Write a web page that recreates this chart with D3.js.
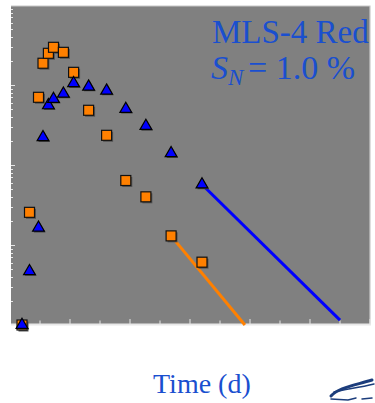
<!DOCTYPE html>
<html><head><meta charset="utf-8">
<script src="https://cdn.jsdelivr.net/npm/d3@7"></script>
<style>html,body{margin:0;padding:0;background:#fff;}svg{display:block;}</style>
</head><body>
<svg id="c" width="375" height="403"></svg>
<script>
// Data (time in days, counts on log scale)
const times = [0.4, 0.65, 0.95, 1.1, 1.28, 1.45, 1.78, 2.12, 2.62, 3.22, 3.86, 4.53, 5.37, 6.4];
const orangeValues = [1, 25.6, 702, 1870, 2490, 2960, 2560, 1440, 483, 235, 64, 40, 13, 6.1];
const blueValues = [1, 4.7, 16.4, 222, 557, 668, 778, 1050, 952, 849, 501, 307, 140, 57];
const orangeLineT = [5.37, 7.83];
const orangeLineV = [13, 1];
const blueLineT = [6.4, 11.0];
const blueLineV = [57, 1.15];
const xMajorTicks = [2, 4, 6, 8, 10, 12];
const xMinorTicks = [1, 3, 5, 7, 9, 11];
const titleLine1 = "MLS-4 Red";
const xLabel = "Time (d)";

const svg = d3.select("#c");
const L = 11, R = 370, T = 6, B = 324;
const x = d3.scaleLinear().domain([0, 12]).range([10, 370]);
const y = d3.scaleLog().domain([1, 10000]).range([325, 5]);

svg.append("rect").attr("x", L).attr("y", T).attr("width", R - L).attr("height", B - T).attr("fill", "#808080");
// top/right frame
svg.append("path").attr("d", `M${L},${T}H${R}V${B}`).attr("fill", "none").attr("stroke", "#c8c8c8").attr("stroke-width", 1.2);

// y ticks (log, inward)
const yTicks = [];
for (let d = 0; d < 4; d++) for (let m = 1; m <= 9; m++) yTicks.push(m * Math.pow(10, d));
yTicks.push(10000);
svg.append("g").selectAll("line").data(yTicks.filter(v => y(v) >= T && y(v) <= B))
  .join("line")
  .attr("x1", L).attr("x2", v => L + (Math.abs(Math.log10(v) % 1) < 1e-9 ? 4 : 2))
  .attr("y1", v => Math.round(y(v)) + 0.5).attr("y2", v => Math.round(y(v)) + 0.5)
  .attr("stroke", "#e6e6e6").attr("stroke-width", 1);

// x axis
const xg = svg.append("g").attr("transform", `translate(0,${B})`);
xg.append("line").attr("x1", L).attr("x2", R + 1).attr("y1", 0.5).attr("y2", 0.5).attr("stroke", "#e8e8e8").attr("stroke-width", 2);
xg.selectAll("line.maj").data(xMajorTicks).join("line").attr("class", "maj")
  .attr("x1", d => x(d)).attr("x2", d => x(d)).attr("y1", 0).attr("y2", -5)
  .attr("stroke", "#e6e6e6").attr("stroke-width", 1);
xg.selectAll("line.min").data(xMinorTicks).join("line").attr("class", "min")
  .attr("x1", d => x(d)).attr("x2", d => x(d)).attr("y1", 0).attr("y2", -3.5)
  .attr("stroke", "#e6e6e6").attr("stroke-width", 1);

// fit lines
const line = d3.line().x(d => x(d[0])).y(d => y(d[1]));
svg.append("path").datum(orangeLineT.map((t, i) => [t, orangeLineV[i]]))
  .attr("d", line).attr("stroke", "#ff8000").attr("stroke-width", 3).attr("fill", "none");
svg.append("path").datum(blueLineT.map((t, i) => [t, blueLineV[i]]))
  .attr("d", line).attr("stroke", "#0000ff").attr("stroke-width", 3).attr("fill", "none");

// orange squares
const sq = 10;
const oData = times.map((t, i) => [t, orangeValues[i]]);
const bData = times.map((t, i) => [t, blueValues[i]]);
svg.append("g").selectAll("rect").data(oData).join("rect")
  .attr("x", d => x(d[0]) - sq / 2 + 1.5).attr("y", d => y(d[1]) - sq / 2 + 1.5)
  .attr("width", sq).attr("height", sq).attr("fill", "#555");
svg.append("g").selectAll("rect").data(oData).join("rect")
  .attr("x", d => x(d[0]) - sq / 2).attr("y", d => y(d[1]) - sq / 2)
  .attr("width", sq).attr("height", sq).attr("fill", "#ff8000").attr("stroke", "#111").attr("stroke-width", 1.2);

// blue triangles
const tri = d3.symbol().type(d3.symbolTriangle).size(60);
svg.append("g").selectAll("path").data(bData).join("path")
  .attr("transform", d => `translate(${x(d[0]) + 1.2},${y(d[1]) + 1.2})`)
  .attr("d", tri).attr("fill", "#444");
svg.append("g").selectAll("path").data(bData).join("path")
  .attr("transform", d => `translate(${x(d[0])},${y(d[1])})`)
  .attr("d", tri).attr("fill", "#0000ff").attr("stroke", "#000").attr("stroke-width", 1.2);

// annotation
const col = "#1a4fcf";
svg.append("text").attr("x", 212).attr("y", 43).attr("font-family", "Liberation Serif, Times New Roman, serif")
  .attr("font-size", 33).attr("fill", col).text(titleLine1);
const t2 = svg.append("text").attr("x", 211).attr("y", 79).attr("font-family", "Liberation Serif, Times New Roman, serif")
  .attr("font-size", 34).attr("fill", col);
t2.append("tspan").attr("font-style", "italic").text("S");
t2.append("tspan").attr("font-style", "italic").attr("font-size", 23).attr("dy", 6).text("N");
t2.append("tspan").attr("dy", -6).attr("x", 248).text("= 1.0 %");

svg.append("text").attr("x", 153).attr("y", 393).attr("font-family", "Liberation Serif, Times New Roman, serif")
  .attr("font-size", 28).attr("fill", col).text(xLabel);

// small logo swoosh
const lg = svg.append("g").attr("fill", "none").attr("stroke", "#1c3d7c").attr("stroke-linecap", "round");
lg.append("path").attr("d", "M331,396 C338,388 352,386 372,380").attr("stroke-width", 3);
lg.append("path").attr("d", "M334,392 C345,389 358,388 374,384").attr("stroke-width", 1.5);
lg.append("path").attr("d", "M331,399 L348,400 L356,398").attr("stroke-width", 1.5);
lg.append("path").attr("d", "M362,399 L372,398").attr("stroke-width", 1.5);
</script>
</body></html>
